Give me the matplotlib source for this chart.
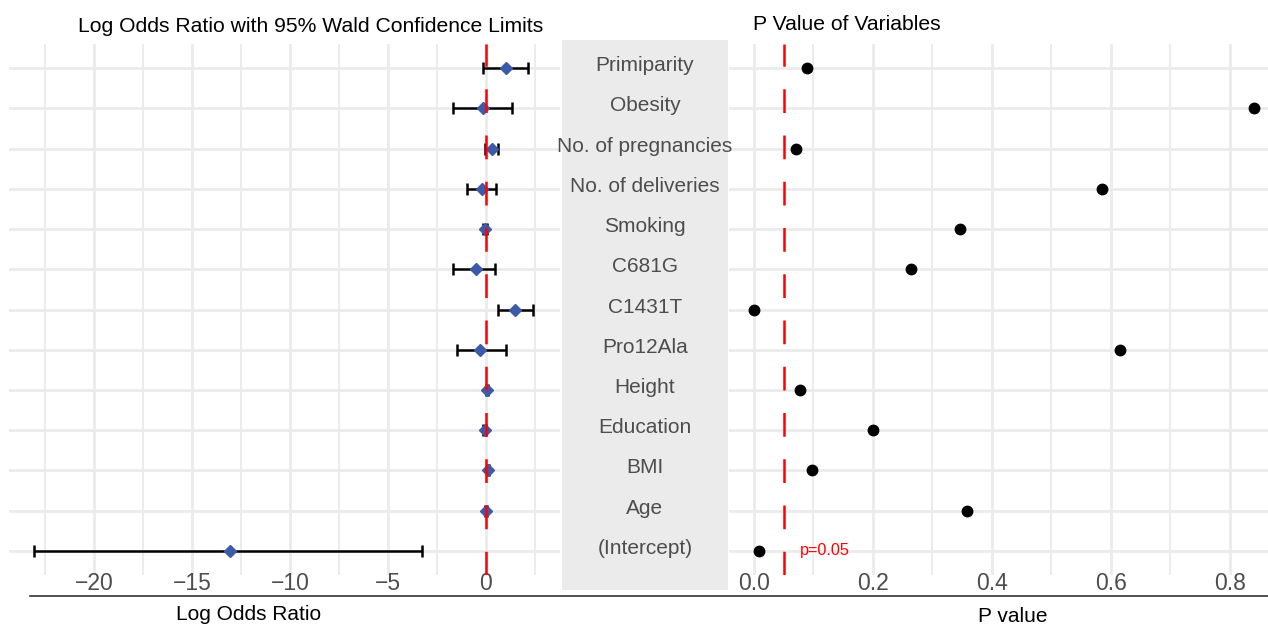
import numpy as np
import matplotlib
matplotlib.use("Agg")
import matplotlib.pyplot as plt
from matplotlib.lines import Line2D

plt.rcParams['font.family'] = ['Liberation Sans', 'DejaVu Sans']

# Data (top row first)
variables = ["Primiparity", "Obesity", "No. of pregnancies", "No. of deliveries",
             "Smoking", "C681G", "C1431T", "Pro12Ala", "Height", "Education",
             "BMI", "Age", "(Intercept)"]
log_odds = [1.0, -0.17, 0.31, -0.2, -0.05, -0.53, 1.5, -0.31, 0.05, -0.07, 0.1, -0.01, -13.08]
ci_lower = [-0.17, -1.66, -0.07, -0.98, -0.15, -1.7, 0.6, -1.47, 0.0, -0.15, 0.03, -0.06, -23.06]
ci_upper = [2.16, 1.31, 0.63, 0.51, 0.05, 0.45, 2.42, 1.0, 0.1, 0.02, 0.17, 0.04, -3.24]
p_values = [0.089, 0.84, 0.07, 0.585, 0.346, 0.264, 0.0, 0.615, 0.077, 0.2, 0.097, 0.358, 0.008]
lor_ticks = [-20, -15, -10, -5, 0]
p_ticks = [0.0, 0.2, 0.4, 0.6, 0.8]

W, H = 1268, 624
fig = plt.figure(figsize=(W / 100, H / 100), dpi=100)


def box(x0, x1, y0, y1):
    # pixel box (top-left origin) -> figure fraction
    return [x0 / W, 1 - y1 / H, (x1 - x0) / W, (y1 - y0) / H]


grid_col = "#EBEBEB"
tick_col = "#4D4D4D"
dash = (0, (9.5, 9))
rows = np.arange(len(variables))
n = len(variables)

ax1 = fig.add_axes(box(9, 560, 44, 575))
ax2 = fig.add_axes(box(562, 728, 40, 590))
ax3 = fig.add_axes(box(729, 1268, 44, 575))
ax2.set_zorder(3)

for ax in (ax1, ax3):
    ax.set_facecolor("none")
    for s in ax.spines.values():
        s.set_visible(False)
    ax.set_ylim(n - 0.4, -0.6)
    ax.set_yticks(rows)
    ax.set_yticklabels([])
    ax.tick_params(length=0, labelsize=16.5, labelcolor=tick_col, pad=-2)
    ax.grid(True, which="major", color=grid_col, lw=2)
    ax.grid(True, which="minor", axis="x", color=grid_col, lw=1.3)
    ax.tick_params(which="minor", length=0)
    ax.set_axisbelow(True)

# left: log odds ratio with CI
ax1.errorbar(log_odds, rows, xerr=[np.array(log_odds) - np.array(ci_lower),
                                   np.array(ci_upper) - np.array(log_odds)],
             fmt="none", ecolor="black", elinewidth=1.8, capsize=4.5, capthick=1.8, zorder=3)
ax1.plot(log_odds, rows, "D", color="#3D5AA8", markersize=6.5, zorder=4)
ax1.axvline(0, color="red", lw=1.8, ls=dash, zorder=5)
ax1.set_xlim(-24.34, 3.78)
ax1.set_xticks(lor_ticks)
ax1.set_xticks(np.arange(-22.5, 3, 5), minor=True)
ax1.set_xticklabels(["\u2212" + str(-t) if t < 0 else str(t) for t in lor_ticks])

# middle: gray band with variable names (same row spacing as the side panels)
row_px = 531 / 13.2
ax2.set_facecolor(grid_col)
for s in ax2.spines.values():
    s.set_visible(False)
ax2.set_xticks([])
ax2.set_yticks([])
ax2.set_ylim(n - 0.4 + 15 / row_px, -0.6 - 4 / row_px)
ax2.set_xlim(0, 1)
for r, name in zip(rows, variables):
    ax2.text(0.5, r - 0.06, name, ha="center", va="center", fontsize=15,
             color=tick_col, clip_on=False)

# right: p values
ax3.axvline(0.05, color="red", lw=1.8, ls=dash, zorder=2)
ax3.plot(p_values, rows, "o", color="black", markersize=7.5, zorder=4)
ax3.text(0.077, rows[-1], "p=0.05", color="red", fontsize=11.7, ha="left", va="center")
ax3.set_xlim(-0.042, 0.864)
ax3.set_xticks(p_ticks)
ax3.set_xticks(np.arange(0.1, 0.9, 0.2), minor=True)
ax3.set_xticklabels([f"{t:.1f}" for t in p_ticks])

# titles and axis titles
fig.text(78 / W, 1 - 26 / H, "Log Odds Ratio with 95% Wald Confidence Limits",
         fontsize=15.2, ha="left", va="center")
fig.text(753 / W, 1 - 24 / H, "P Value of Variables", fontsize=15.2, ha="left", va="center")
fig.text(249 / W, 1 - 615 / H, "Log Odds Ratio", fontsize=15, ha="center", va="center")
fig.text(1013 / W, 1 - 617 / H, "P value", fontsize=15, ha="center", va="center")

fig.lines.append(Line2D([30 / W, 1], [1 - 596 / H] * 2, transform=fig.transFigure,
                        color="#333333", lw=1.2))

fig.savefig("out.png", dpi=100)
